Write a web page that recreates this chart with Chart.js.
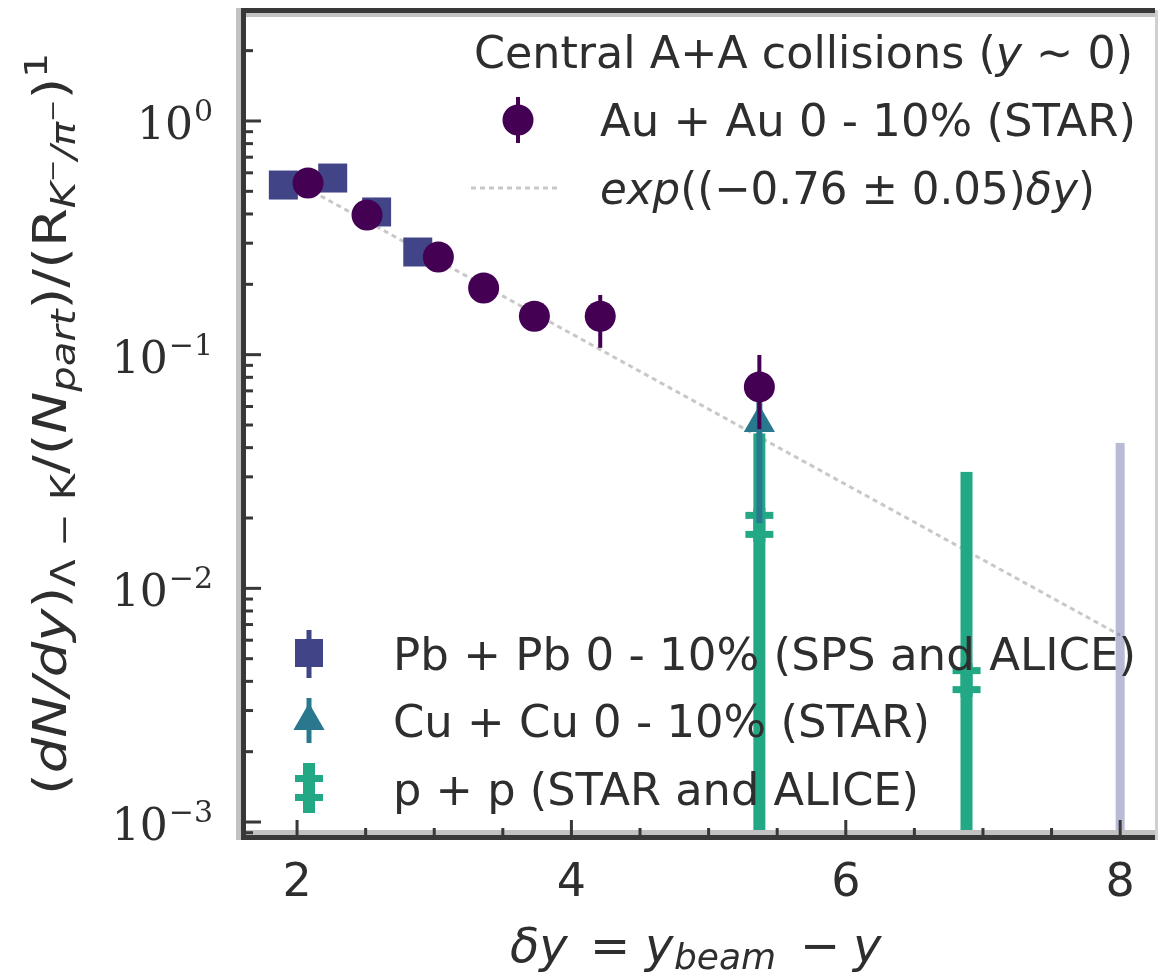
<!DOCTYPE html>
<html><head><meta charset="utf-8">
<script src="https://cdn.jsdelivr.net/npm/chart.js@4.4.1/dist/chart.umd.min.js"></script>
<style>html,body{margin:0;padding:0;background:#fff;}#wrap{width:1158px;height:978px;position:relative;}</style>
</head><body><div id="wrap"><canvas id="c" width="1158" height="978"></canvas></div>
<script>
// ---------------- data ----------------
const auX  = [2.08, 2.51, 3.03, 3.36, 3.73, 4.21, 5.37];
const auY  = [0.543, 0.396, 0.262, 0.193, 0.146, 0.146, 0.0728];
const auLo = [0.50, 0.362, 0.242, 0.178, 0.134, 0.107, 0.048];
const auHi = [0.59, 0.432, 0.284, 0.209, 0.159, 0.180, 0.0997];

const pbX  = [1.90, 2.26, 2.58, 2.88, 8.00];
const pbY  = [0.532, 0.570, 0.408, 0.275, 0.0006];
const pbLo = [0.505, 0.545, 0.388, 0.262, 0.0001];
const pbHi = [0.560, 0.598, 0.430, 0.290, 0.0419];

const cuX  = [5.37];
const cuY  = [0.051];
const cuLo = [0.019];
const cuHi = [0.065];

const ppX  = [5.37, 6.88];
const ppY  = [0.0187, 0.00405];
const ppLo = [0.0001, 0.0001];
const ppHi = [0.046, 0.0315];

const fitX = [2.0, 8.0];
const fitY = [0.543, 0.0063];

const xTicks = [2, 4, 6, 8];
const yTicks = [1, 0.1, 0.01, 0.001];
const yTickExp = ['0', '\u22121', '\u22122', '\u22123'];

const legendTitle = 'Central A+A collisions';
const auLabel = 'Au + Au 0 - 10% (STAR)';
const pbLabel = 'Pb + Pb 0 - 10% (SPS and ALICE)';
const cuLabel = 'Cu + Cu 0 - 10% (STAR)';
const ppLabel = 'p + p (STAR and ALICE)';

// ---------------- helpers ----------------
const COL = {au:'#440154', pb:'#414487', cu:'#2a788e', pp:'#22a884', fit:'#c8c8c8', text:'#2e2e2e', axis:'#383838'};
function pts(xs, ys){ return xs.map((x,i)=>({x:x, y:ys[i]})); }
function ppMarker(){
  const c=document.createElement('canvas'); c.width=32; c.height=34;
  const g=c.getContext('2d'); g.fillStyle=COL.pp;
  g.fillRect(10,0,12,34); g.fillRect(2,4,28,7); g.fillRect(2,23,28,7);
  return c;
}
const PPM = ppMarker();
function font(size, italic, fam){ return (italic?'italic ':'')+size+'px '+(fam||'"DejaVu Sans"'); }
function drawRich(ctx, segs, x, y, target, rotate){
  ctx.save();
  let total=0;
  segs.forEach(s=>{ ctx.font=font(s.s, s.i, s.f); s.w=ctx.measureText(s.t).width; total+=s.w; });
  ctx.translate(x,y);
  if(rotate) ctx.rotate(-Math.PI/2);
  if(target) ctx.scale(target/total,1);
  ctx.textBaseline='alphabetic'; ctx.textAlign='left'; ctx.fillStyle=COL.text;
  let cx=0;
  segs.forEach(s=>{ ctx.font=font(s.s, s.i, s.f); ctx.fillText(s.t, cx, s.dy||0); cx+=s.w; });
  ctx.restore();
}
function drawMarker(ctx, type, x, y){
  ctx.save();
  if(type==='au'){ ctx.fillStyle=COL.au; ctx.beginPath(); ctx.arc(x,y,15.5,0,Math.PI*2); ctx.fill(); }
  else if(type==='pb'){ ctx.fillStyle=COL.pb; ctx.fillRect(x-14,y-14,28,28); }
  else if(type==='cu'){ const r=18; ctx.fillStyle=COL.cu; ctx.beginPath(); ctx.moveTo(x,y-r); ctx.lineTo(x+r*0.866,y+r/2); ctx.lineTo(x-r*0.866,y+r/2); ctx.closePath(); ctx.fill(); }
  else if(type==='pp'){ ctx.drawImage(PPM, x-16, y-17); }
  ctx.restore();
}
function zeroPad(s){ s.paddingLeft=0; s.paddingRight=0; s.paddingTop=0; s.paddingBottom=0; }

// ---------------- plugin ----------------
const decor = {
  id:'decor',
  beforeDatasetDraw(chart, args){
    const ds = chart.data.datasets[args.index];
    if(!ds.errLo) return;
    const {ctx, chartArea:a, scales:{x:xs, y:ys}} = chart;
    ctx.save();
    ctx.beginPath(); ctx.rect(a.left, a.top, a.right-a.left, a.bottom-a.top+3); ctx.clip();
    ctx.fillStyle = ds.errColor;
    ds.data.forEach((p,i)=>{
      const px = xs.getPixelForValue(p.x);
      let y1 = ys.getPixelForValue(ds.errHi[i]);
      let y2 = ys.getPixelForValue(ds.errLo[i]);
      y1 = Math.max(y1, a.top-10); y2 = Math.min(y2, a.bottom+20);
      ctx.fillRect(px - ds.errWidth/2, y1, ds.errWidth, y2-y1);
    });
    ctx.restore();
  },
  afterDatasetsDraw(chart){
    const {ctx, chartArea:a, scales:{x:xs, y:ys}} = chart;
    ctx.save();
    ctx.fillStyle='#c2c2c2';
    ctx.fillRect(a.left-7, a.top-2, 5, a.bottom-a.top+7);
    ctx.fillRect(a.left, a.top+3, a.right-a.left, 4);
    ctx.fillRect(a.left, a.bottom-5, a.right-a.left, 5);
    ctx.fillStyle='#d0d0d0';
    ctx.fillRect(a.right, a.top, 3, a.bottom-a.top+5);
    ctx.fillStyle=COL.axis;
    ctx.fillRect(a.left-2, a.top-2, 5, a.bottom-a.top+7);
    ctx.fillRect(a.left-2, a.top-2, a.right-a.left+2, 5);
    ctx.fillRect(a.left-2, a.bottom, a.right-a.left+2, 5);
    for(let v=1.5; v<=8.25; v+=0.5){
      const px = xs.getPixelForValue(v);
      if(px<a.left+3||px>a.right) continue;
      const len = xTicks.includes(v)?15:7;
      ctx.fillRect(px-1.5, a.bottom-len, 3, len);
    }
    for(let d=-4; d<=0; d++){
      for(let k=1;k<=9;k++){
        const v=k*Math.pow(10,d);
        const py=ys.getPixelForValue(v);
        if(py<a.top+3||py>a.bottom) continue;
        const len = k===1?15:7;
        ctx.fillRect(a.left+3, py-1.5, len, 3);
      }
    }
    ctx.restore();
  },
  afterDraw(chart){
    const {ctx, scales:{x:xs, y:ys}} = chart;
    ctx.save();
    ctx.fillStyle=COL.text; ctx.textAlign='center'; ctx.textBaseline='alphabetic';
    ctx.font=font(46);
    xTicks.forEach(v=>{ ctx.fillText(String(v), xs.getPixelForValue(v), 896); });
    yTicks.forEach((v,i)=>{
      const py=ys.getPixelForValue(v);
      ctx.font=font(30,false,'"DejaVu Serif"'); ctx.textAlign='right';
      const supW=ctx.measureText(yTickExp[i]).width;
      ctx.fillText(yTickExp[i], 213, py);
      ctx.font=font(44,false,'"DejaVu Serif"');
      ctx.fillText('10', 213-supW-1, py+18);
    });
    ctx.restore();

    const xb=962;
    drawRich(ctx,[{t:'\u03b4y',s:48,i:true}],510,xb);
    drawRich(ctx,[{t:'=',s:48}],590,xb);
    drawRich(ctx,[{t:'y',s:48,i:true}],645,xb);
    drawRich(ctx,[{t:'beam',s:36,i:true}],674,xb+7);
    drawRich(ctx,[{t:'\u2212',s:48}],800,xb);
    drawRich(ctx,[{t:'y',s:48,i:true}],853,xb);

    drawRich(ctx,[
      {t:'(',s:46},{t:'dN/dy',s:46,i:true},{t:')',s:46},
      {t:'\u039b \u2212 K',s:33,dy:9},
      {t:'/(',s:46},{t:'N',s:46,i:true},{t:'part',s:33,i:true,dy:9},
      {t:')/(',s:46},{t:'R',s:46},{t:'K',s:33,i:true,dy:9},{t:'\u2212',s:22,dy:-6},
      {t:'/\u03c0',s:33,i:true,dy:9},{t:'\u2212',s:22,dy:-6},
      {t:')',s:46},{t:'1',s:32,dy:-19}
    ], 66, 795, 742, true);

    drawRich(ctx,[{t:legendTitle+' (',s:45},{t:'y',s:45,i:true},{t:' \u223c 0)',s:45}],474,68,659);
    ctx.save();
    ctx.fillStyle=COL.au; ctx.fillRect(516,97,4,46);
    drawMarker(ctx,'au',518,120);
    ctx.strokeStyle=COL.fit; ctx.lineWidth=3; ctx.setLineDash([5,4]);
    ctx.beginPath(); ctx.moveTo(471,188); ctx.lineTo(561,188); ctx.stroke();
    ctx.restore();
    drawRich(ctx,[{t:auLabel,s:45}],600,136,536);
    drawRich(ctx,[{t:'exp',s:45,i:true},{t:'((\u22120.76 \u00b1 0.05)',s:45},{t:'\u03b4y',s:45,i:true},{t:')',s:45}],600,204,495);

    ctx.save();
    ctx.fillStyle=COL.pb; ctx.fillRect(306.5,630,5,48);
    drawMarker(ctx,'pb',309,653);
    ctx.fillStyle=COL.cu; ctx.fillRect(306.5,698,5,45);
    drawMarker(ctx,'cu',309,721);
    ctx.fillStyle=COL.pp; ctx.fillRect(303,763,12,50);
    drawMarker(ctx,'pp',309,788);
    ctx.restore();
    drawRich(ctx,[{t:pbLabel,s:45}],393,670,743);
    drawRich(ctx,[{t:cuLabel,s:45}],393,737,537);
    drawRich(ctx,[{t:ppLabel,s:45}],393,805,526);
  }
};

// ---------------- chart ----------------
new Chart(document.getElementById('c'), {
  type:'scatter',
  data:{ datasets:[
    { label:auLabel, data:pts(auX,auY), errLo:auLo, errHi:auHi, errColor:COL.au, errWidth:4,
      pointStyle:'circle', pointRadius:15.5, backgroundColor:COL.au, borderColor:COL.au, borderWidth:0, order:0 },
    { label:pbLabel, data:pts(pbX,pbY), errLo:pbLo, errHi:pbHi, errColor:'rgba(65,68,135,0.37)', errWidth:9,
      pointStyle:'rect', pointRadius:20.5, backgroundColor:COL.pb, borderColor:COL.pb, borderWidth:0, order:1 },
    { label:cuLabel, data:pts(cuX,cuY), errLo:cuLo, errHi:cuHi, errColor:COL.cu, errWidth:6,
      pointStyle:'triangle', pointRadius:18, backgroundColor:COL.cu, borderColor:COL.cu, borderWidth:0, order:2 },
    { label:ppLabel, data:pts(ppX,ppY), errLo:ppLo, errHi:ppHi, errColor:COL.pp, errWidth:12,
      pointStyle:PPM, pointRadius:16, backgroundColor:COL.pp, borderColor:COL.pp, borderWidth:0, order:3 },
    { label:'fit', data:pts(fitX,fitY), showLine:true, pointRadius:0, borderColor:COL.fit, borderWidth:3,
      borderDash:[5,4], fill:false, order:4 }
  ]},
  options:{
    responsive:false, animation:false, devicePixelRatio:1, events:[],
    layout:{ autoPadding:false, padding:{ top:10, right:3, left:0, bottom:0 } },
    plugins:{ legend:{display:false}, tooltip:{enabled:false}, title:{display:false} },
    scales:{
      x:{ type:'linear', min:1.606, max:8.254, grid:{display:false, drawTicks:false}, border:{display:false},
          ticks:{display:false, padding:0}, afterFit(s){ s.height=143; zeroPad(s); } },
      y:{ type:'logarithmic', min:0.00088, max:2.985, grid:{display:false, drawTicks:false}, border:{display:false},
          ticks:{display:false, padding:0}, afterFit(s){ s.width=243; zeroPad(s); } }
    }
  },
  plugins:[decor]
});
</script></body></html>
